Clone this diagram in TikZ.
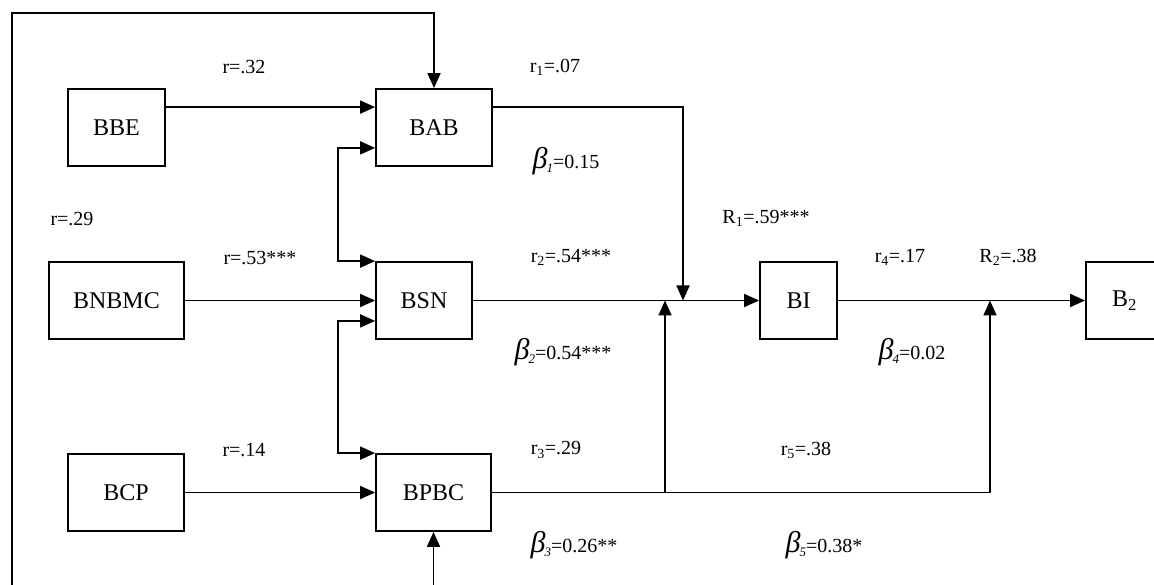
\documentclass[tikz,border=0pt]{standalone}
\usepackage{fontspec}
\setmainfont{Liberation Serif}
\usetikzlibrary{arrows.meta,calc}

\begin{document}
\begin{tikzpicture}[x=1pt,y=-1pt,
  bloc/.style={draw,line width=1.8pt,minimum height=77pt,inner sep=0pt,font=\fontsize{24}{28}\selectfont},
  etiq/.style={font=\fontsize{20}{24}\selectfont,inner sep=0pt},
  fl/.style={line width=1.8pt,-{Triangle[length=15pt,width=13pt]}},
  flb/.style={line width=1.8pt,{Triangle[length=15pt,width=13pt]}-{Triangle[length=15pt,width=13pt]}}]
  \useasboundingbox (0,0) rectangle (1154,585);
  \clip (0,0) rectangle (1154,585);
  \newcommand{\betacoef}[2]{{\fontsize{30}{30}\selectfont\itshape β}\hspace{-1pt}\raisebox{-4pt}{\fontsize{13}{13}\selectfont\itshape #1}=#2}
  % boites
  \foreach \x/\y/\w/\n/\t in {116.5/127.5/97/bbe/BBE, 434/127.5/116/bab/BAB,
                              116.5/300.5/135/bnbmc/BNBMC, 424/300.5/96/bsn/BSN,
                              126/492.5/116/bcp/BCP, 433.5/492.5/115/bpbc/BPBC,
                              798.5/300.5/77/bi/BI, 1124.5/300.5/77/b2/B\textsubscript{2}}
    \node[bloc,minimum width=\w pt] (\n) at (\x,\y) {\t};
  % etiquettes
  \foreach \x/\y/\t in {244/67/r=.32, 555/67/r\textsubscript{1}=.07, 72/219/r=.29,
                        766/218/R\textsubscript{1}=.59***, 260/258/r=.53***, 571/257/r\textsubscript{2}=.54***,
                        900/257/r\textsubscript{4}=.17, 1008/257/R\textsubscript{2}=.38,
                        244/450/r=.14, 556/450/r\textsubscript{3}=.29, 806/450/r\textsubscript{5}=.38}
    \node[etiq] at (\x,\y) {\t};
  \foreach \x/\y/\i/\v in {566/161/1/0.15, 563/352/2/0.54***, 912/352/4/0.02,
                           574/545/3/0.26**, 824/545/5/0.38*}
    \node[etiq] at (\x,\y) {\betacoef{\i}{\v}};
  % liens
  \coordinate (col) at (338,0);
  \coordinate (haut) at (12,13);
  \coordinate (boucle) at (12,610);
  \coordinate (j1) at (683,300.5);
  \coordinate (j2) at (665,300.5);
  \coordinate (j3) at (990,300.5);
  \coordinate (g1) at ($(bab.south west)+(0,-19)$);
  \coordinate (g2) at ($(bsn.south west)+(0,-19)$);
  \draw[fl] ($(bbe.north east)+(0,19)$) -- ($(bab.north west)+(0,19)$);
  \draw[fl] (bnbmc) -- (bsn);
  \draw[fl] (bcp) -- (bpbc);
  \draw[fl] (bsn) -- (bi);
  \draw[fl] (bi) -- (b2);
  \draw[flb] (g1) -- (g1 -| col) |- (bsn.north west);
  \draw[flb] (g2) -- (g2 -| col) |- (bpbc.north west);
  \draw[flb] (bpbc.south) |- (boucle) |- (haut) -| (bab.north);
  \draw[fl] ($(bab.north east)+(0,19)$) -| (j1);
  \draw[fl] (bpbc.east -| j2) -- (j2);
  \draw[fl] (bpbc.east) -| (j3);
\end{tikzpicture}
\end{document}
